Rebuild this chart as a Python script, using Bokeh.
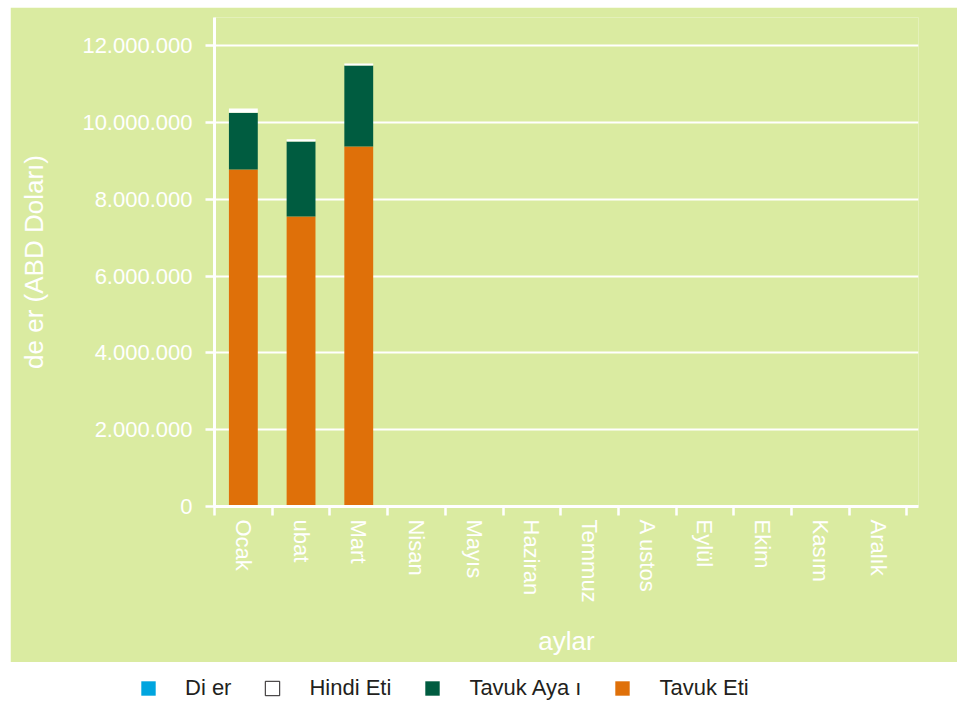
from bokeh.plotting import figure
from bokeh.models import FixedTicker, Legend, LegendItem, ColumnDataSource, Range1d, Spacer
from bokeh.layouts import column, row
from bokeh.embed import file_html
from bokeh.resources import INLINE

# ---- data ----
months = ["Ocak", "ubat", "Mart", "Nisan", "Mayıs", "Haziran", "Temmuz",
          "A ustos", "Eylül", "Ekim", "Kasım", "Aralık"]
data_months = ["Ocak", "ubat", "Mart"]
tavuk_eti = [8770000, 7550000, 9370000]
tavuk_ayagi = [1480000, 1950000, 2110000]
hindi_eti = [110000, 60000, 50000]
diger = [0, 0, 0]
y_ticks = [0, 2000000, 4000000, 6000000, 8000000, 10000000, 12000000]
y_tick_labels = ["0", "2.000.000", "4.000.000", "6.000.000", "8.000.000",
                 "10.000.000", "12.000.000"]
legend_names = ["Di er", "Hindi Eti", "Tavuk Aya ı", "Tavuk Eti"]

FONT = "Liberation Sans"
BG = "#DAEBA1"
ORANGE = "#DF7009"
GREEN = "#005C40"
BLUE = "#00A5DF"
WHITE = "#FFFFFF"
DARK = "#231F20"

centers = [months.index(m) + 0.5 for m in data_months]
src = ColumnDataSource(dict(x=centers, te=tavuk_eti, ta=tavuk_ayagi,
                            he=hindi_eti, dg=diger))
stackers = ["te", "ta", "he", "dg"]

p = figure(width=947, height=655, x_range=Range1d(0, 12.2),
           y_range=Range1d(0, 12730000), output_backend="svg",
           toolbar_location=None, min_border_left=204, min_border_right=39,
           min_border_top=10, min_border_bottom=156)
p.background_fill_color = BG
p.border_fill_color = BG
p.outline_line_color = None

p.vbar_stack(stackers, x="x", width=0.5, source=src,
             color=[ORANGE, GREEN, WHITE, BLUE], line_color=None)

# x axis
xa = p.xaxis[0]
xa.ticker = FixedTicker(ticks=[i + 0.5 for i in range(len(months))],
                        minor_ticks=list(range(len(months) + 1)))
xa.major_label_overrides = {i + 0.5: m for i, m in enumerate(months)}
xa.major_label_orientation = "vertical"
xa.major_tick_out = 0
xa.major_tick_in = 0
xa.minor_tick_out = 9
xa.minor_tick_in = 0
xa.minor_tick_line_color = WHITE
xa.minor_tick_line_width = 2.5
xa.axis_line_color = WHITE
xa.axis_line_width = 3
xa.major_label_text_color = WHITE
xa.major_label_text_font = FONT
xa.major_label_text_font_size = "22px"
xa.major_label_standoff = 4
xa.axis_label = "aylar"
xa.axis_label_text_color = WHITE
xa.axis_label_text_font = FONT
xa.axis_label_text_font_size = "26px"
xa.axis_label_text_font_style = "normal"
xa.axis_label_standoff = 20

# y axis
ya = p.yaxis[0]
ya.ticker = FixedTicker(ticks=y_ticks)
ya.major_label_overrides = {t: l for t, l in zip(y_ticks, y_tick_labels)}
ya.major_tick_out = 9
ya.major_tick_in = 0
ya.major_tick_line_color = WHITE
ya.major_tick_line_width = 2.5
ya.minor_tick_out = 0
ya.minor_tick_in = 0
ya.axis_line_color = WHITE
ya.axis_line_width = 3
ya.major_label_text_color = WHITE
ya.major_label_text_font = FONT
ya.major_label_text_font_size = "22px"
ya.major_label_standoff = 13
ya.axis_label = "de er (ABD Doları)"
ya.axis_label_text_color = WHITE
ya.axis_label_text_font = FONT
ya.axis_label_text_font_size = "26px"
ya.axis_label_text_font_style = "normal"
ya.axis_label_standoff = 30

p.xgrid.grid_line_color = None
p.ygrid.ticker = FixedTicker(ticks=y_ticks)
p.ygrid.grid_line_color = WHITE
p.ygrid.grid_line_width = 2

# legend strip (hidden renderers that only feed the legend)
p2 = figure(width=947, height=40, output_backend="svg", toolbar_location=None,
            x_axis_type=None, y_axis_type=None, min_border=0,
            x_range=Range1d(0, 12.2), y_range=Range1d(0, 12730000))
p2.background_fill_color = WHITE
p2.border_fill_color = WHITE
p2.outline_line_color = None
p2.grid.grid_line_color = None

rs = p2.vbar_stack(stackers, x="x", width=0.5, source=src,
                   fill_color=[ORANGE, GREEN, WHITE, BLUE],
                   line_color=[None, None, DARK, None], line_width=1)
for r in rs:
    r.visible = False
by_name = {"Tavuk Eti": rs[0], "Tavuk Aya ı": rs[1], "Hindi Eti": rs[2], "Di er": rs[3]}
items = [LegendItem(label=n, renderers=[by_name[n]]) for n in legend_names]

leg = Legend(items=items, orientation="horizontal", location=(129, 1),
             label_text_font=FONT, label_text_font_size="22px",
             label_text_color=DARK, glyph_width=18, glyph_height=18,
             label_standoff=28, spacing=32, padding=0, margin=0,
             border_line_color=None, background_fill_alpha=0,
             inactive_fill_alpha=0, label_height=24)
p2.add_layout(leg, "center")

layout = column(Spacer(height=7),
                row(Spacer(width=10), p, spacing=0),
                row(Spacer(width=10), p2, spacing=0),
                spacing=0)
open("out.html", "w").write(file_html(layout, INLINE))
